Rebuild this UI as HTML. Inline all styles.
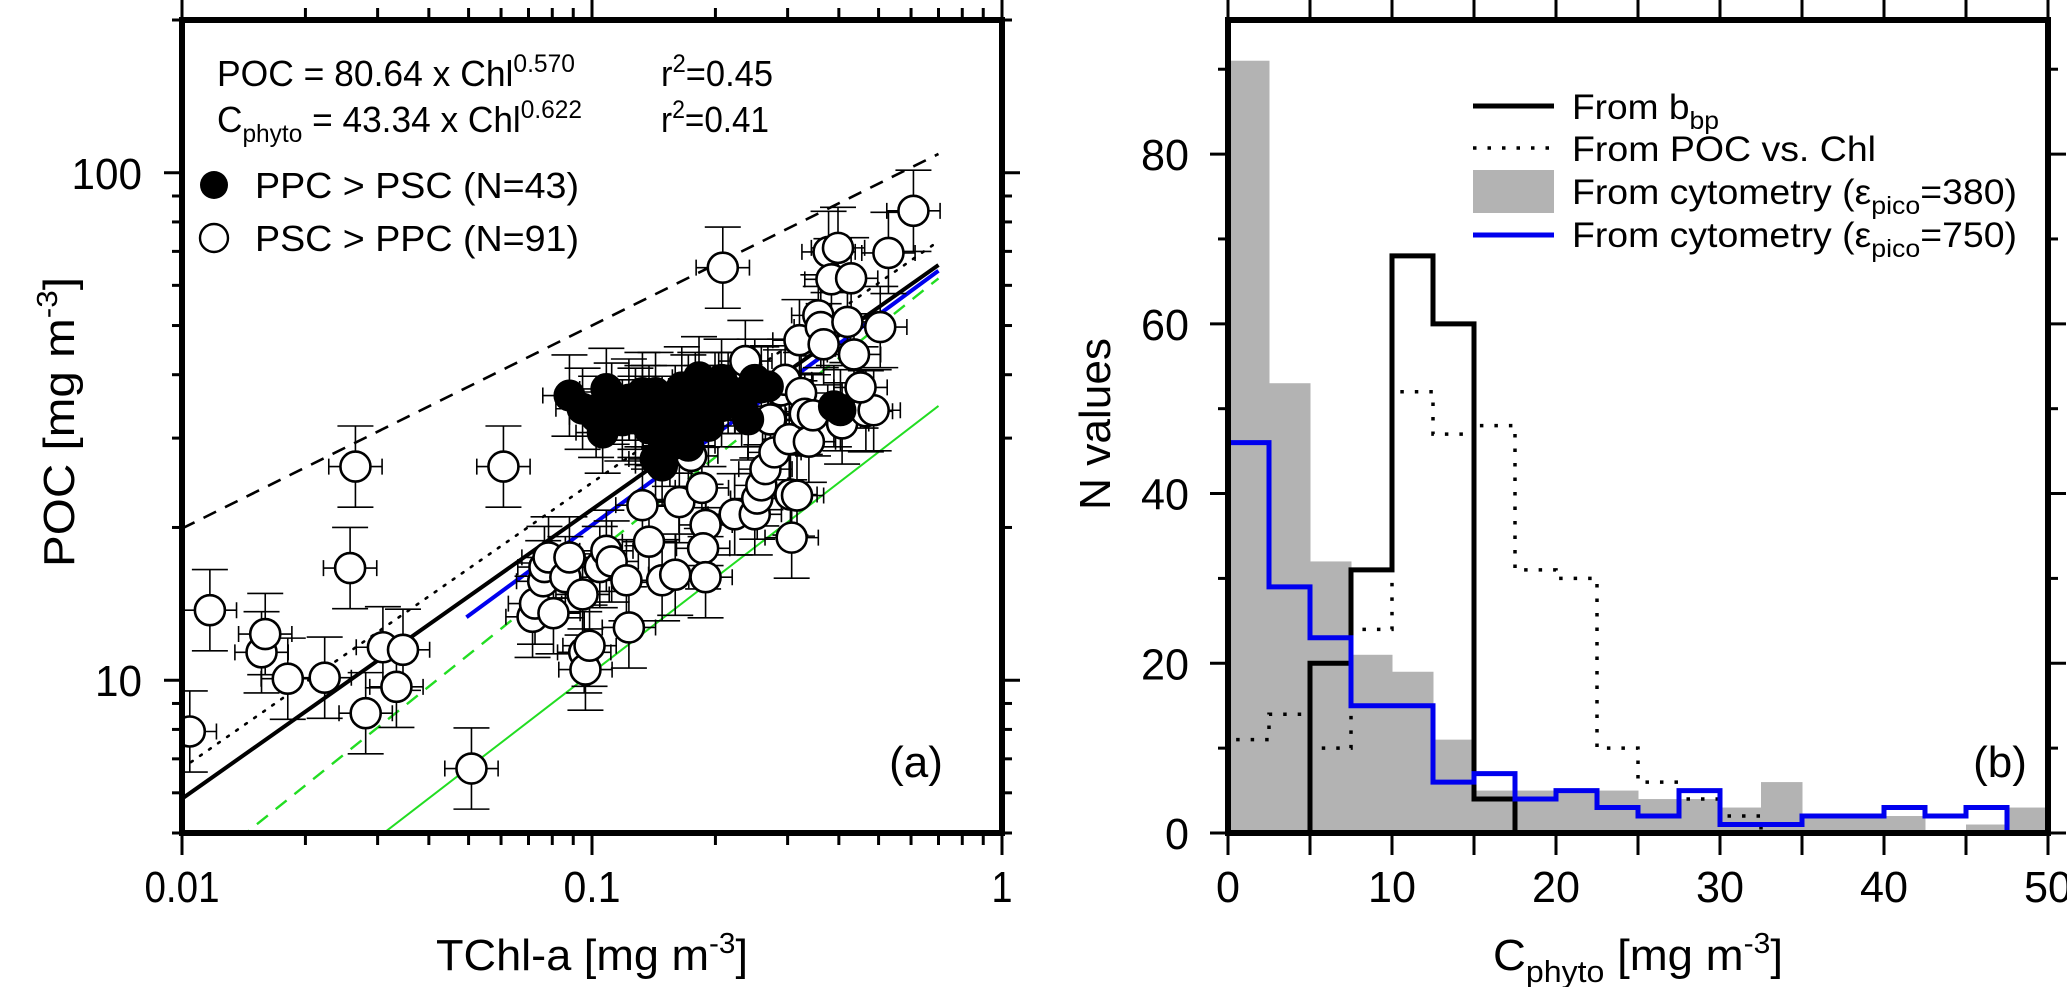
<!DOCTYPE html>
<html><head><meta charset="utf-8"><style>
html,body{margin:0;padding:0;background:#fff;}
svg{display:block;font-family:"Liberation Sans",sans-serif;}
</style></head><body>
<svg id="fig" width="2067" height="987" viewBox="0 0 2067 987" xmlns="http://www.w3.org/2000/svg">
<g id="pa"></g>
<g id="pb"></g>
</svg>
<script>
// ---------- Panel (a) data (log10 values) ----------
const openLogChl = [-1.981,-1.932,-1.806,-1.797,-1.742,-1.652,-1.590,-1.577,-1.552,-1.510,-1.477,-1.461,-1.294,-1.216,-1.145,-1.139,-1.119,-1.116,-1.106,-1.094,-1.065,-1.055,-1.023,-1.019,-1.016,-1.006,-0.981,-0.965,-0.952,-0.916,-0.910,-0.894,-0.877,-0.861,-0.829,-0.797,-0.787,-0.758,-0.732,-0.723,-0.729,-0.723,-0.681,-0.652,-0.626,-0.603,-0.597,-0.587,-0.577,-0.565,-0.555,-0.539,-0.529,-0.519,-0.516,-0.500,-0.494,-0.490,-0.481,-0.471,-0.461,-0.448,-0.442,-0.435,-0.423,-0.416,-0.400,-0.390,-0.377,-0.368,-0.361,-0.332,-0.313,-0.277,-0.216,-0.297,-0.345,-0.513];
const openLogPOC = [0.899,1.138,1.055,1.091,1.003,1.005,1.221,1.421,0.935,1.065,0.987,1.060,0.826,1.421,1.125,1.151,1.195,1.223,1.242,1.132,1.203,1.242,1.169,1.055,1.021,1.068,1.223,1.255,1.234,1.197,1.104,1.519,1.345,1.273,1.197,1.208,1.351,1.442,1.379,1.306,1.260,1.203,1.813,1.327,1.629,1.327,1.358,1.384,1.416,1.514,1.449,1.571,1.592,1.475,1.366,1.364,1.670,1.566,1.525,1.470,1.522,1.719,1.696,1.662,1.844,1.790,1.852,1.506,1.706,1.792,1.642,1.530,1.532,1.842,1.925,1.696,1.577,1.281];
const filledLogChl = [-1.055,-1.023,-0.990,-0.974,-0.965,-0.952,-0.926,-0.910,-0.894,-0.877,-0.861,-0.845,-0.829,-0.819,-0.810,-0.797,-0.781,-0.771,-0.765,-0.748,-0.739,-0.732,-0.716,-0.700,-0.684,-0.668,-0.652,-0.635,-0.619,-0.603,-0.587,-0.571,-0.765,-0.829,-0.845,-0.684,-0.797,-0.877,-0.410,-0.394,-0.861];
const filledLogPOC = [1.561,1.535,1.519,1.488,1.574,1.545,1.512,1.553,1.535,1.540,1.496,1.566,1.519,1.488,1.462,1.540,1.577,1.514,1.561,1.566,1.597,1.540,1.501,1.566,1.592,1.566,1.566,1.540,1.514,1.592,1.577,1.579,1.462,1.423,1.436,1.540,1.488,1.566,1.540,1.532,1.540];
// fit lines: POC = a * Chl^b over [xmin,xmax]
const lineNames = ["upper-dashed-line","dotted-line","poc-fit-line","blue-fit-line","green-dashed-line","cphyto-fit-line"];
const lineA = [125.6, 89.6, 80.64, 79.2, 78.0, 43.34];
const lineB = [0.40, 0.563, 0.570, 0.593, 0.647, 0.622];
const lineXmin = [0.01, 0.01, 0.01, 0.0494, 0.01, 0.01];
const lineXmax = [0.7, 0.7, 0.7, 0.7, 0.7, 0.7];
const lineColor = ["#000","#000","#000","#0000ee","#22dd22","#22dd22"];
const lineWidth = [2.6, 2.6, 4, 4, 2.4, 2];
const lineDash = ["14,10","2,9","","","14,10",""];
const xTicksA = [0.01, 0.1, 1];
const xTickLabelsA = ["0.01","0.1","1"];
const yTicksA = [10, 100];
const yTickLabelsA = ["10","100"];
const errLogX = 0.065, errLogY = 0.08;

// ---------- Panel (b) data ----------
const binEdges = [0,2.5,5,7.5,10,12.5,15,17.5,20,22.5,25,27.5,30,32.5,35,37.5,40,42.5,45,47.5,50];
const cyto380 = [91,53,32,21,19,11,5,5,5,5,4,4,3,6,2,2,2,0,1,3];
const cyto750 = [46,29,23,15,15,6,7,4,5,3,2,5,1,1,2,2,3,2,3,0];
const fromBbp = [0,0,20,31,68,60,4,0,0,0,0,0,0,0,0,0,0,0,0,0];
const fromPOC = [11,14,10,24,52,47,48,31,30,10,6,4,2,0,0,0,0,0,0,0];
const xTicksB = [0,10,20,30,40,50];
const yTicksB = [0,20,40,60,80];

const NS="http://www.w3.org/2000/svg";
function el(tag, attrs, parent){const e=document.createElementNS(NS,tag);for(const k in attrs)e.setAttribute(k,attrs[k]);parent.appendChild(e);return e;}

// ---------- Panel (a) ----------
const pa=document.getElementById('pa');
const A={l:182,r:1002,t:20,b:833};
const lx0=-2, lx1=0, ly0=Math.log10(5), ly1=Math.log10(200);
const xa=v=>A.l+(Math.log10(v)-lx0)/(lx1-lx0)*(A.r-A.l);
const ya=v=>A.b-(Math.log10(v)-ly0)/(ly1-ly0)*(A.b-A.t);
const xal=l=>A.l+(l-lx0)/(lx1-lx0)*(A.r-A.l);
const yal=l=>A.b-(l-ly0)/(ly1-ly0)*(A.b-A.t);

const defs=el('defs',{},pa);
const cp=el('clipPath',{id:'clipA'},defs);
el('rect',{x:A.l,y:A.t,width:A.r-A.l,height:A.b-A.t},cp);
const plotA=el('g',{'clip-path':'url(#clipA)'},pa);



for(let i=0;i<lineA.length;i++){
  const x1=lineXmin[i], x2=lineXmax[i];
  const p=el('line',{x1:xa(x1),y1:ya(lineA[i]*Math.pow(x1,lineB[i])),x2:xa(x2),y2:ya(lineA[i]*Math.pow(x2,lineB[i])),stroke:lineColor[i],'stroke-width':lineWidth[i],'stroke-dasharray':lineDash[i],'stroke-linecap':lineDash[i]==="2,9"?"round":"butt"},plotA);
  
  
}
function errorBars(lxs,lys,name){
  const g=el('g',{stroke:'#000','stroke-width':1.6,fill:'none'},plotA);
  
  
  for(let i=0;i<lxs.length;i++){
    const cx=xal(lxs[i]), cy=yal(lys[i]);
    const xl=xal(lxs[i]-errLogX), xr=xal(lxs[i]+errLogX), yt=yal(lys[i]+errLogY), yb=yal(lys[i]-errLogY);
    el('path',{d:`M${xl},${cy}H${xr}M${xl},${cy-8}V${cy+8}M${xr},${cy-8}V${cy+8}M${cx},${yt}V${yb}M${cx-18},${yt}H${cx+18}M${cx-18},${yb}H${cx+18}`},g);
  }
}
errorBars(openLogChl,openLogPOC,'open-error-bars');
errorBars(filledLogChl,filledLogPOC,'filled-error-bars');
const gOpen=el('g',{},plotA);


for(let i=0;i<openLogChl.length;i++){
  const c=el('circle',{cx:xal(openLogChl[i]),cy:yal(openLogPOC[i]),r:15,fill:'#fff',stroke:'#000','stroke-width':2.6},gOpen);
  
  
}
const gFill=el('g',{},plotA);


for(let i=0;i<filledLogChl.length;i++){
  const c=el('circle',{cx:xal(filledLogChl[i]),cy:yal(filledLogPOC[i]),r:15,fill:'#000',stroke:'#000','stroke-width':2},gFill);
  
  
}
const tA=el('g',{stroke:'#000','stroke-width':3},pa);


for(let d=-2;d<=0;d++){
  for(let m=1;m<=9;m++){
    const v=m*Math.pow(10,d); if(v>1.0001) break;
    const X=xa(v), L=(m===1)?22:12;
    el('line',{x1:X,y1:A.b,x2:X,y2:A.b+L},tA);
    el('line',{x1:X,y1:A.t,x2:X,y2:A.t-L},tA);
  }
}
for(let d=0;d<=2;d++){
  for(let m=1;m<=9;m++){
    const v=m*Math.pow(10,d); if(v<4.99||v>200.1) continue;
    const Y=ya(v), L=(m===1)?18:10;
    el('line',{x1:A.l,y1:Y,x2:A.l-L,y2:Y},tA);
    el('line',{x1:A.r,y1:Y,x2:A.r+L,y2:Y},tA);
  }
}
el('rect',{x:A.l,y:A.t,width:A.r-A.l,height:A.b-A.t,fill:'none',stroke:'#000','stroke-width':6},pa);
for(let i=0;i<xTicksA.length;i++){
  const t=el('text',{x:xa(xTicksA[i]),y:902,'font-size':44,'text-anchor':'middle',textLength:xTickLabelsA[i].length*18+3,lengthAdjust:'spacingAndGlyphs'},pa);
  t.textContent=xTickLabelsA[i];
  
  
}
for(let i=0;i<yTicksA.length;i++){
  const t=el('text',{x:142,y:ya(yTicksA[i])+16,'font-size':44,'text-anchor':'end',textLength:yTickLabelsA[i].length*23.5,lengthAdjust:'spacingAndGlyphs'},pa);
  t.textContent=yTickLabelsA[i];
  
  
}
</script>
<script>
(function(){
const pa=document.getElementById('pa');
pa.insertAdjacentHTML('beforeend',`
<text x="436" y="970" font-size="44" textLength="312" lengthAdjust="spacingAndGlyphs">TChl-a [mg m<tspan dy="-17" font-size="29">-3</tspan><tspan dy="17">]</tspan></text>
<text transform="translate(74,422) rotate(-90)" font-size="44" text-anchor="middle" textLength="290" lengthAdjust="spacingAndGlyphs">POC [mg m<tspan dy="-17" font-size="29">-3</tspan><tspan dy="17">]</tspan></text>
<text x="217" y="86" font-size="36" textLength="358" lengthAdjust="spacingAndGlyphs">POC = 80.64 x Chl<tspan dy="-14" font-size="25">0.570</tspan></text>
<text x="661" y="86" font-size="36" textLength="112" lengthAdjust="spacingAndGlyphs">r<tspan dy="-14" font-size="25">2</tspan><tspan dy="14">=0.45</tspan></text>
<text x="217" y="132" font-size="36" textLength="365" lengthAdjust="spacingAndGlyphs">C<tspan dy="10" font-size="25">phyto</tspan><tspan dy="-10"> = 43.34 x Chl</tspan><tspan dy="-14" font-size="25">0.622</tspan></text>
<text x="661" y="132" font-size="36" textLength="108" lengthAdjust="spacingAndGlyphs">r<tspan dy="-14" font-size="25">2</tspan><tspan dy="14">=0.41</tspan></text>
<circle cx="214" cy="185" r="14" fill="#000"/>
<text x="255" y="198" font-size="36" textLength="324" lengthAdjust="spacingAndGlyphs">PPC &gt; PSC (N=43)</text>
<circle cx="214" cy="238" r="14" fill="#fff" stroke="#000" stroke-width="2.4"/>
<text x="255" y="251" font-size="36" textLength="324" lengthAdjust="spacingAndGlyphs">PSC &gt; PPC (N=91)</text>
<text x="916" y="777" font-size="44" text-anchor="middle">(a)</text>
`);
})();
</script>
<script>
(function(){
const NS="http://www.w3.org/2000/svg";
function el(tag, attrs, parent){const e=document.createElementNS(NS,tag);for(const k in attrs)e.setAttribute(k,attrs[k]);parent.appendChild(e);return e;}
const pb=document.getElementById('pb');
const B={l:1228,r:2048,t:20,b:833};
const xb=v=>B.l+v/50*(B.r-B.l);
const yb=v=>B.b-v/95.8*(B.b-B.t);
const gGray=el('g',{fill:'#b3b3b3'},pb);


for(let i=0;i<cyto380.length;i++){
  const r=el('rect',{x:xb(binEdges[i]),y:yb(cyto380[i]),width:xb(binEdges[i+1])-xb(binEdges[i])+0.5,height:yb(0)-yb(cyto380[i])},gGray);
  
  
}
function stepPath(vals){
  let d=`M${xb(binEdges[0])},${yb(0)}`;
  for(let i=0;i<vals.length;i++){d+=`L${xb(binEdges[i])},${yb(vals[i])}L${xb(binEdges[i+1])},${yb(vals[i])}`;}
  d+=`L${xb(binEdges[vals.length])},${yb(0)}`;
  return d;
}
const pd=el('path',{d:stepPath(fromPOC),fill:'none',stroke:'#000','stroke-width':3.5,'stroke-dasharray':'3.5,11'},pb);


const pk=el('path',{d:stepPath(fromBbp),fill:'none',stroke:'#000','stroke-width':5},pb);


const pl=el('path',{d:stepPath(cyto750),fill:'none',stroke:'#0000ee','stroke-width':5},pb);


const tB=el('g',{stroke:'#000','stroke-width':3},pb);


for(let v=0;v<=50;v+=5){
  el('line',{x1:xb(v),y1:B.b,x2:xb(v),y2:B.b+22},tB);
  el('line',{x1:xb(v),y1:B.t,x2:xb(v),y2:B.t-22},tB);
}
for(let v=0;v<=90;v+=10){
  const L=(v%20===0)?18:10;
  el('line',{x1:B.l,y1:yb(v),x2:B.l-L,y2:yb(v)},tB);
  el('line',{x1:B.r,y1:yb(v),x2:B.r+L,y2:yb(v)},tB);
}
const fr=el('rect',{x:B.l,y:B.t,width:B.r-B.l,height:B.b-B.t,fill:'none',stroke:'#000','stroke-width':6},pb);


for(const v of xTicksB){
  const s=String(v);
  const t=el('text',{x:xb(v),y:902,'font-size':44,'text-anchor':'middle',textLength:s.length*24,lengthAdjust:'spacingAndGlyphs'},pb);
  t.textContent=s;
  
  
}
for(const v of yTicksB){
  const s=String(v);
  const t=el('text',{x:1189,y:yb(v)+16,'font-size':44,'text-anchor':'end',textLength:s.length*24,lengthAdjust:'spacingAndGlyphs'},pb);
  t.textContent=s;
  
  
}
pb.insertAdjacentHTML('beforeend',`
<text x="1493" y="970" font-size="44" textLength="290" lengthAdjust="spacingAndGlyphs">C<tspan dy="12" font-size="31">phyto</tspan><tspan dy="-12"> [mg m</tspan><tspan dy="-17" font-size="29">-3</tspan><tspan dy="17">]</tspan></text>
<text transform="translate(1110,424) rotate(-90)" font-size="44" text-anchor="middle" textLength="172" lengthAdjust="spacingAndGlyphs">N values</text>
<g>
<line x1="1473" y1="106" x2="1554" y2="106" stroke="#000" stroke-width="5"/>
<text x="1572" y="119" font-size="35" textLength="147" lengthAdjust="spacingAndGlyphs">From b<tspan dy="10" font-size="25">bp</tspan></text>
<line x1="1473" y1="148" x2="1554" y2="148" stroke="#000" stroke-width="3.5" stroke-dasharray="3.5,11"/>
<text x="1572" y="161" font-size="35" textLength="304" lengthAdjust="spacingAndGlyphs">From POC vs. Chl</text>
<rect x="1473" y="170" width="81" height="43" fill="#b3b3b3"/>
<text x="1572" y="204" font-size="35" textLength="445" lengthAdjust="spacingAndGlyphs">From cytometry (ε<tspan dy="10" font-size="25">pico</tspan><tspan dy="-10">=380)</tspan></text>
<line x1="1473" y1="235" x2="1554" y2="235" stroke="#0000ee" stroke-width="5"/>
<text x="1572" y="247" font-size="35" textLength="445" lengthAdjust="spacingAndGlyphs">From cytometry (ε<tspan dy="10" font-size="25">pico</tspan><tspan dy="-10">=750)</tspan></text>
</g>
<text x="2000" y="777" font-size="44" text-anchor="middle">(b)</text>
`);
})();
</script>
</body></html>
